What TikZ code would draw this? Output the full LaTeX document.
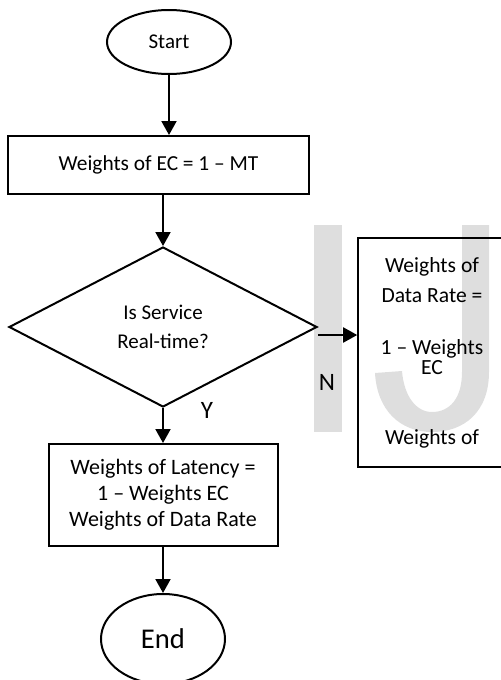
\documentclass[tikz,border=0pt]{standalone}
\usepackage{fontspec}
\setmainfont{Carlito}
\usetikzlibrary{arrows.meta, positioning, shapes.geometric}

\tikzset{
  term/.style={ellipse, draw, line width=1pt, inner sep=0pt},
  proc/.style={rectangle, draw, line width=1pt, align=center, inner sep=0pt},
  decision/.style={diamond, draw, line width=1pt, align=center, inner sep=0pt,
    minimum width=154pt, minimum height=80pt},
  flow/.style={line width=1pt, -{Triangle[length=7pt,width=7.5pt]}},
  wmark/.style={fill=black!13},
}

\begin{document}
\begin{tikzpicture}[x=0.5pt, y=-0.5pt]
  \useasboundingbox (0,0) rectangle (501,680);
  \clip (0,0) rectangle (501,680);

  % watermark
  \fill[wmark] (314,225) rectangle (342,432);
  \fill[wmark] (462,225) -- (489,225) -- (489,372)
    .. controls (489,412) and (464,432) .. (432,432)
    .. controls (400,432) and (377,410) .. (375,373) -- (402,371)
    .. controls (404,396) and (416,412) .. (432,412)
    .. controls (450,412) and (462,398) .. (462,372) -- cycle;

  \node[term, minimum width=62pt, minimum height=32pt, font=\fontsize{10.5}{12}\selectfont] (start) at (169,42) {Start};
  \node[proc, minimum width=150.5pt, minimum height=29pt, font=\fontsize{10.7}{12}\selectfont] (ec) at (158.5,165) {Weights of EC = 1 – MT};
  \node[decision, font=\fontsize{10.5}{14.5}\selectfont] (rt) at (163,327) {Is Service\\Real-time?};
  \node[proc, minimum width=114.5pt, minimum height=51pt, font=\fontsize{11}{13}\selectfont, below=17.5pt of rt] (lat) {Weights of Latency =\\1 – Weights EC\\Weights of Data Rate};
  \node[term, minimum width=62pt, minimum height=45pt, font=\fontsize{14.3}{16}\selectfont, below=23pt of lat] (stop) {End};
  \node[proc, line width=0.8pt, minimum width=74pt, minimum height=114.5pt, font=\fontsize{10.8}{10}\selectfont] (dr) at (432,352.5) {Weights of\\[5pt]Data Rate =\\[16pt]1 – Weights\\EC\\[25pt]Weights of};

  \node[font=\fontsize{12.5}{14}\selectfont] (n) at (327,382) {N};
  \node[font=\fontsize{12.5}{14}\selectfont] (y) at (207,410) {Y};

  \coordinate (nout) at ([yshift=-4pt]rt.east);
  \draw[flow] (start) -- (start |- ec.north);
  \draw[flow] (ec.south -| rt) -- (rt.north);
  \draw[flow] (rt) -- (lat);
  \draw[flow] (lat) -- (stop);
  \draw[flow] (nout) -- (nout -| dr.west);
\end{tikzpicture}
\end{document}
